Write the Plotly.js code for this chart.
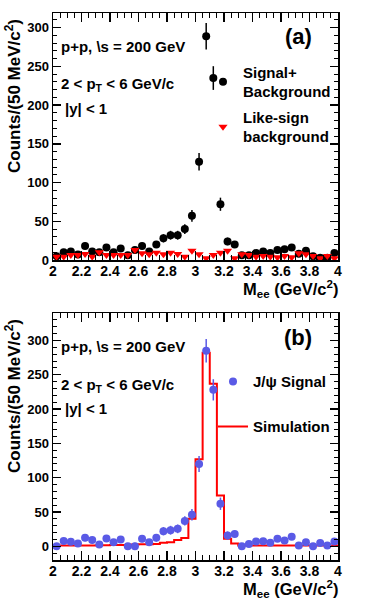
<!DOCTYPE html>
<html>
<head>
<meta charset="utf-8">
<script src="https://cdn.plot.ly/plotly-3.0.1.min.js"></script>
<style>
  html, body { margin: 0; padding: 0; background: #ffffff; }
  #chart { width: 375px; height: 600px; }
</style>
</head>
<body>
<div id="chart"></div>
<script>
// ---- data (bin centres, 50 MeV/c^2 bins) ----
const binCenters = [2.025, 2.075, 2.125, 2.175, 2.225, 2.275, 2.325, 2.375, 2.425, 2.475,
                    2.525, 2.575, 2.625, 2.675, 2.725, 2.775, 2.825, 2.875, 2.925, 2.975,
                    3.025, 3.075, 3.125, 3.175, 3.225, 3.275, 3.325, 3.375, 3.425, 3.475,
                    3.525, 3.575, 3.625, 3.675, 3.725, 3.775, 3.825, 3.875, 3.925, 3.975];
const binWidth = 0.05;

// (a) signal + background (unlike-sign pairs)
const signalPlusBkg = [5, 10, 11, 7, 18, 11, 10, 16, 10, 15,
                       6, 13, 18, 11, 20, 28, 32, 32, 40, 57,
                       127, 289, 235, 72, 24, 20, 6, 6, 9, 11,
                       9, 13, 14, 16, 8, 12, 5, 3, 3, 9];
const signalPlusBkgErr = [2.2, 3.2, 3.3, 2.7, 4.2, 3.3, 3.2, 4.0, 3.2, 3.9,
                          2.5, 3.6, 4.2, 3.3, 4.5, 5.3, 5.7, 5.7, 6.3, 7.5,
                          11.3, 17.0, 15.3, 8.5, 4.9, 4.5, 2.5, 2.5, 3.0, 3.3,
                          3.0, 3.6, 3.7, 4.0, 2.8, 3.5, 2.2, 1.7, 1.7, 3.0];
// (a) like-sign background
const likeSignBkg = [4.3, 4.3, 6.5, 6.5, 7.7, 4.3, 9.9, 6.5, 6.5, 6.5,
                     6.5, 12.9, 8.6, 7.3, 9.5, 7.3, 9.5, 7.7, 4.3, 12,
                     7.3, 2.2, 6.5, 9.5, 12, 2.2, 7.3, 6.5, 4.3, 5.2,
                     4.3, 3.4, 5.2, 3.4, 8.6, 7.3, 5.2, 2.2, 5.2, 2.2];

// (b) J/psi signal (background subtracted)
const jpsiSignal = [0, 7.6, 6.6, 4.1, 12.3, 9, 2.7, 11.5, 5.7, 10,
                    0, 0, 11, 5.7, 12.3, 22, 23.4, 25.4, 37, 46,
                    120, 285, 228, 62, 15.6, 18, 0, 3.5, 7, 7.5,
                    5, 10.8, 8.3, 14, 1, 6, 0, 4.6, 1, 7];
const jpsiSignalErr = [3.0, 3.8, 4.1, 3.7, 5.0, 4.6, 4.4, 4.9, 4.1, 4.7,
                       3.6, 5.0, 5.0, 4.3, 5.5, 6.0, 6.4, 6.3, 6.6, 8.3,
                       11.6, 17.1, 15.5, 9.0, 6.0, 4.9, 3.7, 3.6, 3.7, 4.0,
                       3.7, 4.0, 4.2, 4.4, 4.0, 4.3, 3.2, 2.4, 2.9, 3.4];
// (b) simulated line shape
const simulation = [1, 1, 1, 1, 1, 1, 1.5, 1.5, 2, 2,
                    2, 2.5, 3, 3, 3.5, 5, 6, 9, 12, 40,
                    127, 282, 237, 74, 11, 4, 1, 1, 1, 1,
                    1, 1, 1, 1, 1, 1, 1, 1, 1, 1];

// tick labels
const xTickVals = [2, 2.2, 2.4, 2.6, 2.8, 3, 3.2, 3.4, 3.6, 3.8, 4];
const xTickText = ["2", "2.2", "2.4", "2.6", "2.8", "3", "3.2", "3.4", "3.6", "3.8", "4"];
const yTickVals = [0, 50, 100, 150, 200, 250, 300];
const yTickText = ["0", "50", "100", "150", "200", "250", "300"];

// ---- build ----
const FONT = 'Liberation Sans, Arial, Helvetica, sans-serif';
const W = 375, H = 600;
const px = v => v / W;           // paper x from pixel
const py = v => 1 - v / H;       // paper y from pixel

// histogram step: left bin edges plus final upper edge
const simEdges = binCenters.map(c => c - binWidth / 2).concat([binCenters[binCenters.length - 1] + binWidth / 2]);
const simSteps = simulation.concat([simulation[simulation.length - 1]]);

const traces = [
  {
    x: binCenters, y: signalPlusBkg, xaxis: 'x', yaxis: 'y',
    type: 'scatter', mode: 'markers', name: 'Signal+<br>Background',
    legend: 'legend',
    marker: {color: '#000000', size: 8, symbol: 'circle'},
    error_y: {type: 'data', array: signalPlusBkgErr, visible: true, color: '#000000', thickness: 1.5, width: 0}
  },
  {
    x: binCenters, y: likeSignBkg, xaxis: 'x', yaxis: 'y',
    type: 'scatter', mode: 'markers', name: 'Like-sign<br>background',
    legend: 'legend2',
    marker: {color: '#ff0000', size: 8, symbol: 'triangle-down'}
  },
  {
    x: simEdges, y: simSteps, xaxis: 'x2', yaxis: 'y2',
    type: 'scatter', mode: 'lines', name: 'Simulation',
    legend: 'legend4',
    line: {color: '#ff0000', width: 2, shape: 'hv'}
  },
  {
    x: binCenters, y: jpsiSignal, xaxis: 'x2', yaxis: 'y2',
    type: 'scatter', mode: 'markers', name: 'J/ψ Signal',
    legend: 'legend3',
    marker: {color: '#5a5ae6', size: 8, symbol: 'circle'},
    error_y: {type: 'data', array: jpsiSignalErr, visible: true, color: '#5a5ae6', thickness: 1.5, width: 0}
  }
];

const xDomain = [px(53), px(338)];
function xAxis(anchor) {
  return {
    domain: xDomain, anchor: anchor, range: [2, 4],
    tickmode: 'array', tickvals: xTickVals, ticktext: xTickText,
    ticks: 'inside', ticklen: 9, tickwidth: 1.3, tickcolor: '#000',
    ticklabelstandoff: -2,
    minor: {tickmode: 'linear', tick0: 2, dtick: 0.05, ticks: 'inside', ticklen: 5, tickwidth: 1, tickcolor: '#000'},
    showline: true, linecolor: '#000', linewidth: 1.5, mirror: 'allticks',
    showgrid: false, zeroline: false,
    tickfont: {family: FONT, size: 14, color: '#000', weight: 'bold'}
  };
}
function yAxis(anchor, domain, range) {
  return {
    domain: domain, anchor: anchor, range: range,
    tickmode: 'array', tickvals: yTickVals, ticktext: yTickText,
    ticks: 'inside', ticklen: 8, tickwidth: 1.3, tickcolor: '#000',
    minor: {tickmode: 'linear', tick0: 0, dtick: 10, ticks: 'inside', ticklen: 4, tickwidth: 1, tickcolor: '#000'},
    showline: true, linecolor: '#000', linewidth: 1.5, mirror: 'allticks',
    showgrid: false, zeroline: false,
    tickfont: {family: FONT, size: 13, color: '#000', weight: 'bold'}
  };
}

function txt(text, x, y, size, xanchor, extra) {
  return Object.assign({
    text: text, xref: 'paper', yref: 'paper', x: x, y: y,
    xanchor: xanchor || 'left', yanchor: 'middle', showarrow: false,
    font: {family: FONT, size: size, color: '#000', weight: 'bold'}
  }, extra || {});
}

const annotations = [];
[0, 300].forEach((off, i) => {
  annotations.push(txt(i === 0 ? '(a)' : '(b)', px(298), py(37 + off), 22, 'center'));
  annotations.push(txt('p+p, \\s = 200 GeV', px(59), py(46.7 + off), 15));
  annotations.push(txt('2 &lt; p<sub>T</sub> &lt; 6 GeV/c', px(59), py(85 + off), 15));
  annotations.push(txt('|y| &lt; 1', px(63), py(108.3 + off), 15));
  annotations.push(txt('M<sub>ee</sub> (GeV/c<sup>2</sup>)', px(339), py(289 + off), 16.5, 'right',
                       {borderpad: 0}));
  annotations.push(txt('Counts/(50 MeV/c<sup>2</sup>)', px(13), py(96 + off), 17, 'center', {textangle: -90}));
});

function legendAt(x, y) {
  return {
    x: x, y: y, xref: 'paper', yref: 'paper', xanchor: 'left', yanchor: 'middle',
    bgcolor: 'rgba(0,0,0,0)', borderwidth: 0, itemwidth: 30, valign: 'middle',
    font: {family: FONT, size: 15, color: '#000', weight: 'bold'}
  };
}

const layout = {
  width: W, height: H,
  margin: {l: 0, r: 0, t: 0, b: 0},
  paper_bgcolor: '#ffffff', plot_bgcolor: '#ffffff',
  xaxis: xAxis('y'),
  yaxis: yAxis('x', [py(260), py(13)], [0, 319]),
  xaxis2: xAxis('y2'),
  yaxis2: yAxis('x2', [py(560), py(313)], [-20, 340]),
  legend: legendAt(px(203), py(81.7)),
  legend2: legendAt(px(203), py(126.7)),
  legend3: legendAt(px(213), py(381.7)),
  legend4: legendAt(px(213), py(426.7)),
  annotations: annotations,
  showlegend: true
};

Plotly.newPlot('chart', traces, layout, {displayModeBar: false, staticPlot: true});
</script>
</body>
</html>
